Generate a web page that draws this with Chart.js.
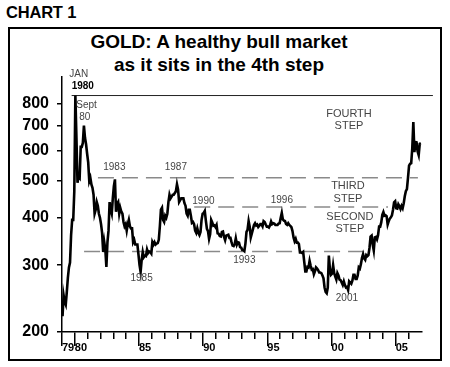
<!DOCTYPE html>
<html>
<head>
<meta charset="utf-8">
<script src="https://cdn.jsdelivr.net/npm/chart.js@4.4.1/dist/chart.umd.min.js"></script>
<style>
  html, body { margin: 0; padding: 0; background: #fff; }
  body { width: 450px; height: 367px; position: relative; overflow: hidden; font-family: "Liberation Sans", Arial, sans-serif; }
  #label { position: absolute; left: 6px; top: 4px; font-weight: bold; font-size: 16.5px; line-height: 16px; letter-spacing: -0.2px; }
  #frame { position: absolute; left: 8px; top: 27px; width: 434px; height: 334px; box-sizing: border-box; border: 2px solid #000; }
  #title { position: absolute; left: 0; top: 30px; width: 438px; text-align: center; font-weight: bold; font-size: 19px; line-height: 23.4px; }
  canvas { position: absolute; left: 0; top: 0; }
</style>
</head>
<body>
<div id="label">CHART 1</div>
<div id="frame"></div>
<div id="title">GOLD: A healthy bull market<br>as it sits in the 4th step</div>
<canvas id="goldChart" width="450" height="367"></canvas>
<script>
// Gold price, monthly, Jan 1979 - Dec 2006 (US$/oz, log scale)
const startYear = 1979;
const prices = [
    220, 250, 240, 236, 255, 278, 296, 305, 360, 395, 395, 470,   // 1979
    840, 650, 495, 515, 510, 615, 615, 630, 700, 650, 625, 590,   // 1980
    560, 500, 510, 490, 480, 460, 410, 420, 440, 430, 410, 400,   // 1981
    385, 365, 325, 345, 330, 297, 345, 370, 440, 420, 410, 450,   // 1982
    485, 505, 415, 435, 440, 410, 425, 415, 410, 390, 380, 385,   // 1983
    370, 385, 395, 380, 375, 375, 345, 350, 340, 340, 340, 320,   // 1984
    300, 288, 310, 325, 315, 318, 317, 330, 323, 326, 325, 322,   // 1985
    345, 340, 345, 340, 342, 343, 350, 380, 420, 425, 395, 390,   // 1986
    405, 400, 410, 440, 460, 450, 455, 460, 460, 465, 470, 490,   // 1987
    475, 440, 445, 450, 450, 450, 437, 430, 410, 405, 420, 420,   // 1988
    405, 388, 390, 385, 370, 365, 375, 365, 360, 367, 395, 410,   // 1989
    412, 417, 393, 374, 369, 352, 362, 395, 389, 381, 382, 378,   // 1990
    383, 364, 363, 358, 357, 367, 368, 356, 349, 359, 360, 361,   // 1991
    354, 354, 345, 338, 337, 341, 353, 340, 345, 344, 335, 334,   // 1992
    329, 329, 327, 342, 367, 372, 392, 379, 355, 364, 373, 383,   // 1993
    387, 382, 384, 378, 381, 385, 385, 380, 392, 390, 384, 379,   // 1994
    379, 377, 382, 391, 385, 387, 386, 383, 383, 383, 386, 387,   // 1995
    400, 412, 396, 393, 392, 385, 383, 387, 383, 381, 378, 369,   // 1996
    355, 347, 352, 344, 344, 341, 324, 324, 323, 325, 306, 289,   // 1997
    289, 297, 296, 308, 299, 292, 293, 284, 289, 296, 294, 291,   // 1998
    287, 287, 286, 282, 277, 262, 255, 253, 262, 318, 293, 283,   // 1999
    285, 300, 286, 280, 275, 286, 282, 275, 274, 270, 266, 272,   // 2000
    266, 262, 263, 258, 272, 270, 268, 273, 283, 283, 276, 276,   // 2001
    282, 296, 294, 302, 314, 321, 313, 310, 319, 317, 319, 333,   // 2002
    357, 359, 340, 328, 355, 356, 351, 360, 379, 379, 389, 407,   // 2003
    414, 405, 406, 404, 384, 392, 398, 401, 406, 420, 439, 442,   // 2004
    424, 423, 434, 429, 422, 430, 424, 437, 456, 470, 476, 510,   // 2005
    549, 555, 557, 610, 715, 596, 633, 632, 598, 585, 627, 629    // 2006
];

// axes
const yTicks = [200, 300, 400, 500, 600, 700, 800];
const yearTicks = [];
for (let yr = 1979; yr <= 2006; yr++) yearTicks.push(yr);
const majorYears = [1979, 1980, 1985, 1990, 1995, 2000, 2005];
const majorLabels = ['79', '80', '85', '90', '95', '00', '05'];

// step levels (solid line = Jan 1980 high, dashed = steps)
const stepLevels = [840, 510, 427, 326];
const stepFrom = [1979.75, 1981.8, 1989.3, 1980.72];
const stepTo = [2007.9, 2006.73, 2004.4, 2002.6];

// annotations
const noteText = ['JAN', '1980', 'Sept', '80', '1983', '1987', '1990', '1996', '1985', '1993', '2001',
    'FOURTH', 'STEP', 'THIRD', 'STEP', 'SECOND', 'STEP'];
const noteYear = [1980.31, 1980.62, 1980.91, 1980.78, 1983.08, 1987.87, 1990.02, 1996.13, 1985.2, 1993.21, 2001.2,
    2001.36, 2001.36, 2001.28, 2001.28, 2001.43, 2001.43];
const noteValue = [958, 889, 794, 736, 542, 542, 442, 446, 277, 310, 245,
    753, 697, 486, 448, 401, 374];

const FONT = '"Liberation Sans", Arial, sans-serif';

const notesPlugin = {
    id: 'notes',
    afterDatasetsDraw(chart) {
        const ctx = chart.ctx;
        const x = chart.scales.x;
        const y = chart.scales.y;
        ctx.save();
        ctx.textAlign = 'center';
        ctx.textBaseline = 'middle';
        noteText.forEach((t, i) => {
            if (t === '1980') {
                ctx.font = 'bold 10px ' + FONT;
                ctx.fillStyle = '#000';
            } else if (/[A-Z]{3,}/.test(t) && t !== 'JAN') {
                ctx.font = '11px ' + FONT;
                ctx.fillStyle = '#444';
            } else {
                ctx.font = '10px ' + FONT;
                ctx.fillStyle = '#444';
            }
            ctx.fillText(t, x.getPixelForValue(noteYear[i]), y.getPixelForValue(noteValue[i]));
        });
        ctx.restore();
    }
};

const goldPoints = prices.map((p, i) => ({ x: startYear + (i + 0.5) / 12, y: p }));

const stepSets = stepLevels.map((lvl, i) => ({
    data: [{ x: stepFrom[i], y: lvl }, { x: stepTo[i], y: lvl }],
    borderColor: i === 0 ? '#222' : '#8a8a8a',
    borderWidth: i === 0 ? 1 : 1.5,
    borderDash: i === 0 ? [] : [16, 8],
    pointRadius: 0,
    clip: false,
    order: 1
}));

const ctx = document.getElementById('goldChart').getContext('2d');
const goldChart = new Chart(ctx, {
    type: 'line',
    data: {
        datasets: [{
            label: 'Gold',
            data: goldPoints,
            borderColor: '#000',
            borderWidth: 2.6,
            pointRadius: 0,
            tension: 0,
            order: 0
        }].concat(stepSets)
    },
    options: {
        responsive: false,
        animation: false,
        layout: { padding: { left: 0, top: 77, right: 28, bottom: 8 } },
        plugins: {
            legend: { display: false },
            tooltip: { enabled: false }
        },
        scales: {
            x: {
                type: 'linear',
                min: 1979,
                max: 2007.05,
                position: 'bottom',
                weight: 0,
                afterBuildTicks: s => { s.ticks = yearTicks.map(v => ({ value: v })); },
                afterFit: s => { s.height = 7; },
                grid: { drawOnChartArea: false, tickLength: 7, color: '#000', lineWidth: 1.5 },
                border: { display: true, color: '#000', width: 1.5 },
                ticks: { display: false }
            },
            xMajor: {
                type: 'linear',
                min: 1979,
                max: 2007.05,
                position: 'bottom',
                weight: 1,
                afterBuildTicks: s => { s.ticks = majorYears.map(v => ({ value: v })); },
                afterFit: s => { s.height = 20; },
                grid: { drawOnChartArea: false, tickLength: 7, color: '#000', lineWidth: 1.5 },
                border: { display: false },
                ticks: {
                    autoSkip: false,
                    maxRotation: 0,
                    align: 'start',
                    padding: -5,
                    color: '#000',
                    font: { family: FONT, size: 11, weight: 'bold' },
                    callback: (v, i) => majorLabels[i]
                }
            },
            y: {
                type: 'logarithmic',
                min: 200,
                max: 940,
                position: 'left',
                afterBuildTicks: s => { s.ticks = yTicks.map(v => ({ value: v })); },
                afterFit: s => { s.width = 62; },
                grid: { drawOnChartArea: false, tickLength: 5, color: '#000', lineWidth: 1.5 },
                border: { display: true, color: '#000', width: 1.5 },
                ticks: {
                    padding: 8,
                    color: '#000',
                    font: { family: FONT, size: 16, weight: 'bold' },
                    callback: v => String(v)
                }
            }
        }
    },
    plugins: [notesPlugin]
});
</script>
</body>
</html>
